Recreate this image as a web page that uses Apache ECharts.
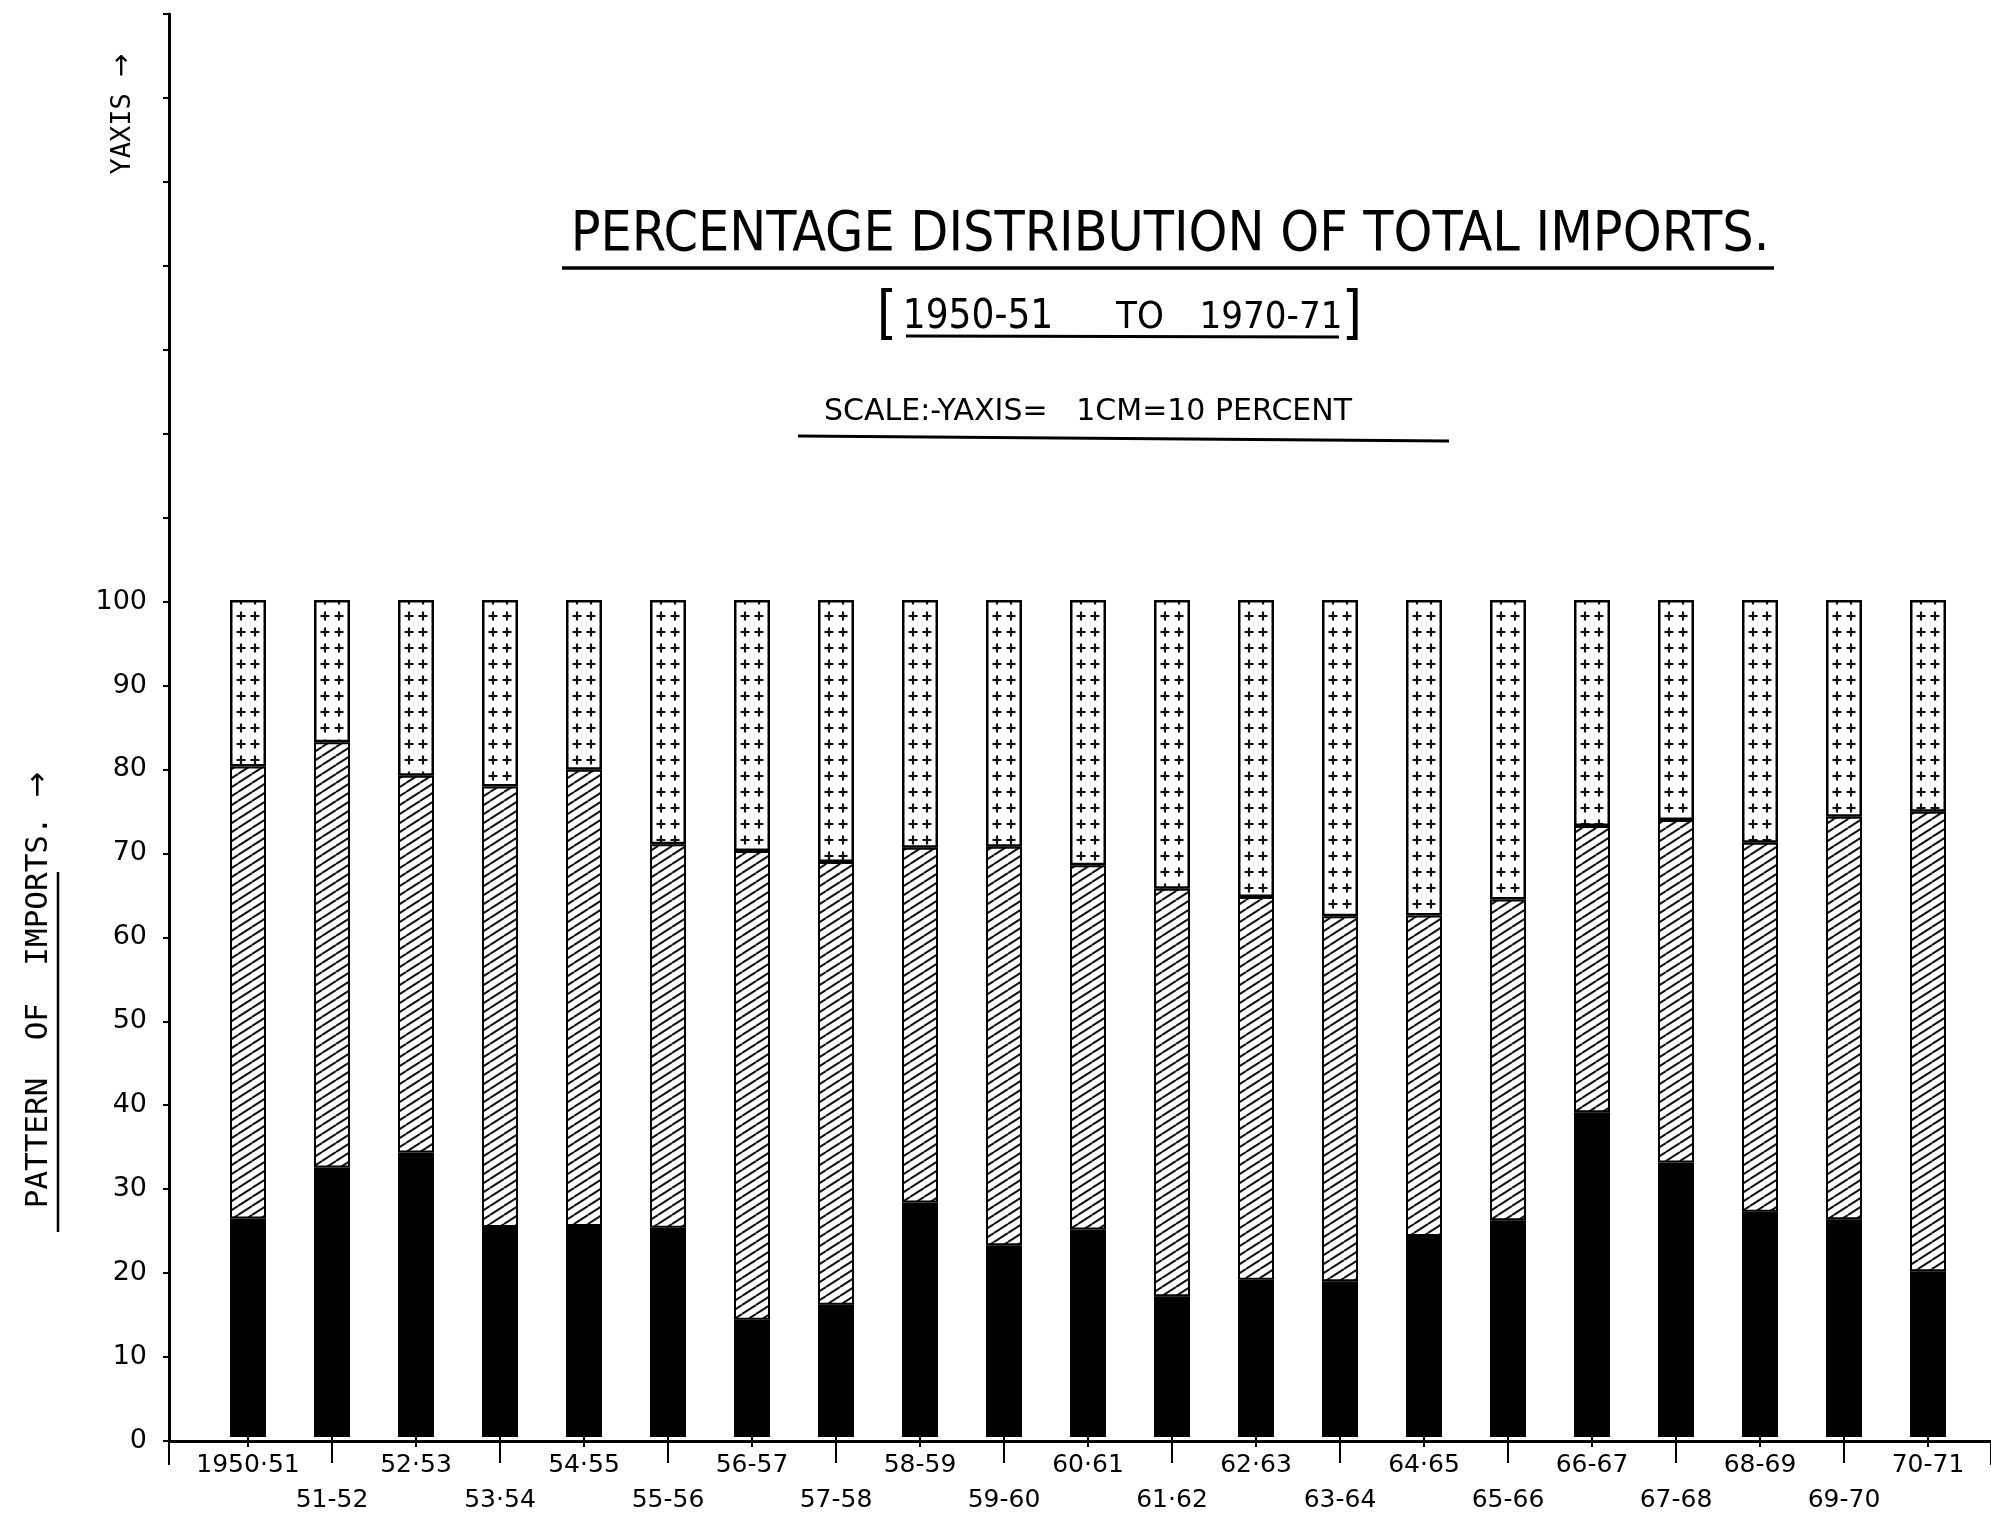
<!DOCTYPE html>
<html>
<head>
<meta charset="utf-8">
<title>Percentage distribution of total imports</title>
<script src="https://cdn.jsdelivr.net/npm/echarts@6/dist/echarts.min.js"></script>
<style>
  html, body { margin: 0; padding: 0; background: #fff; }
  #chart { width: 1991px; height: 1518px; }
</style>
</head>
<body>
<div id="chart"></div>
<script>
// years on the x axis, as written under the bars
const years = ['1950·51', '51-52', '52·53', '53·54', '54·55', '55-56', '56-57', '57-58', '58-59', '59-60',
  '60·61', '61·62', '62·63', '63-64', '64·65', '65-66', '66-67', '67-68', '68-69', '69-70', '70-71'];

// percent shares, bottom to top (solid / hatched / crossed)
const solidShare = [26.1, 32.2, 34.0, 25.1, 25.2, 25.0, 14.0, 15.8, 28.0, 22.9, 24.8,
  16.8, 18.8, 18.6, 24.0, 25.9, 38.8, 32.8, 26.9, 26.0, 19.8];
const hatchedShare = [54.0, 50.8, 45.0, 52.6, 54.5, 45.8, 56.0, 52.9, 42.4, 47.6, 43.5,
  48.7, 45.7, 43.6, 38.3, 38.3, 34.2, 40.9, 44.1, 48.1, 54.9];
const crossedShare = [19.9, 17.0, 21.0, 22.3, 20.3, 29.2, 30.0, 31.3, 29.6, 29.5, 31.7,
  34.5, 35.5, 37.8, 37.7, 35.8, 27.0, 26.3, 29.0, 25.9, 25.3];

const yMax = 170;
const yStep = 10;
const labelFont = "'DejaVu Sans', 'Liberation Sans', sans-serif";
const monoFont = "'DejaVu Sans Mono', 'Liberation Mono', monospace";
const narrowFont = "'Liberation Sans Narrow', 'DejaVu Sans Condensed', 'Roboto Condensed', 'Liberation Sans', sans-serif";

// hatch tile: "/" strokes
function hatchTile() {
  const w = 14, h = 9;
  const c = document.createElement('canvas');
  c.width = w; c.height = h;
  const ctx = c.getContext('2d');
  ctx.fillStyle = '#fff';
  ctx.fillRect(0, 0, w, h);
  ctx.strokeStyle = '#111';
  ctx.lineWidth = 2;
  for (let n = -1; n <= 1; n++) {
    ctx.beginPath();
    ctx.moveTo(0, h + h * n);
    ctx.lineTo(w, h * n);
    ctx.stroke();
  }
  return c;
}

// small "+" marks, two per row inside a bar
function plusTile() {
  const c = document.createElement('canvas');
  c.width = 14; c.height = 16;
  const ctx = c.getContext('2d');
  ctx.fillStyle = '#fff';
  ctx.fillRect(0, 0, 14, 16);
  ctx.strokeStyle = '#111';
  ctx.lineWidth = 2.2;
  [3, 17, -11].forEach(cx => {
    ctx.beginPath();
    ctx.moveTo(cx - 4.5, 8); ctx.lineTo(cx + 4.5, 8);
    ctx.moveTo(cx, 3.5); ctx.lineTo(cx, 12.5);
    ctx.stroke();
  });
  return c;
}

const chart = echarts.init(document.getElementById('chart'), null, { renderer: 'canvas' });

const gridTop = 14;
const gridBottom = 77;

const option = {
  backgroundColor: '#fff',
  animation: false,
  grid: [
    { left: 206, width: 1764, top: gridTop, bottom: gridBottom },
    { left: 169, right: -10, top: gridTop, bottom: gridBottom }
  ],
  xAxis: [
    {
      gridIndex: 0,
      type: 'category',
      data: years,
      axisLine: { show: false },
      axisTick: {
        show: true,
        alignWithLabel: true,
        length: 26,
        interval: (i) => i % 2 === 1,
        lineStyle: { color: '#000', width: 2 }
      },
      axisLabel: {
        interval: 0,
        color: '#000',
        fontFamily: labelFont,
        fontSize: 25,
        lineHeight: 35,
        margin: 11,
        formatter: (v, i) => (i % 2 === 0 ? v : '\n' + v)
      }
    },
    {
      gridIndex: 0,
      type: 'category',
      position: 'bottom',
      data: years,
      axisLine: { show: false },
      axisLabel: { show: false },
      axisTick: {
        show: true,
        alignWithLabel: true,
        length: 10,
        interval: (i) => i % 2 === 0,
        lineStyle: { color: '#000', width: 2 }
      }
    },
    {
      gridIndex: 1,
      type: 'value',
      min: 0,
      max: 1,
      interval: 1,
      axisLine: { show: true, lineStyle: { color: '#000', width: 3 } },
      axisTick: { show: true, length: 24, lineStyle: { color: '#000', width: 2 } },
      axisLabel: { show: false },
      splitLine: { show: false }
    }
  ],
  yAxis: [
    { gridIndex: 0, type: 'value', min: 0, max: yMax, show: false },
    {
      gridIndex: 1,
      type: 'value',
      min: 0,
      max: yMax,
      interval: yStep,
      axisLine: { show: true, lineStyle: { color: '#000', width: 3 } },
      axisTick: { show: true, length: 6, lineStyle: { color: '#000', width: 2 } },
      axisLabel: {
        color: '#000',
        fontFamily: labelFont,
        fontSize: 27,
        margin: 22,
        formatter: (v) => (v <= 100 ? String(v) : '')
      },
      splitLine: { show: false }
    }
  ],
  series: [
    {
      name: 'Solid share',
      type: 'bar',
      stack: 'total',
      barWidth: 36,
      xAxisIndex: 0,
      yAxisIndex: 0,
      data: solidShare,
      itemStyle: { color: '#000' }
    },
    {
      name: 'Hatched share',
      type: 'bar',
      stack: 'total',
      barWidth: 36,
      xAxisIndex: 0,
      yAxisIndex: 0,
      data: hatchedShare,
      itemStyle: {
        color: { image: hatchTile(), repeat: 'repeat' },
        borderColor: '#000',
        borderWidth: 2
      }
    },
    {
      name: 'Crossed share',
      type: 'bar',
      stack: 'total',
      barWidth: 36,
      xAxisIndex: 0,
      yAxisIndex: 0,
      data: crossedShare,
      itemStyle: {
        color: { image: plusTile(), repeat: 'repeat' },
        borderColor: '#000',
        borderWidth: 2.5
      }
    }
  ],
  graphic: [
    {
      type: 'text', x: 1170, y: 236,
      style: { text: 'PERCENTAGE DISTRIBUTION OF TOTAL IMPORTS.', fill: '#000',
        font: '55px ' + narrowFont, textAlign: 'center', textVerticalAlign: 'middle' }
    },
    { type: 'line', shape: { x1: 562, y1: 268, x2: 1774, y2: 268 }, style: { stroke: '#000', lineWidth: 3.5 } },
    {
      type: 'text', x: 978, y: 318,
      style: { text: '1950-51', fill: '#000', font: '40px ' + narrowFont, textAlign: 'center', textVerticalAlign: 'middle' }
    },
    {
      type: 'text', x: 1140, y: 318,
      style: { text: 'TO', fill: '#000', font: '38px ' + narrowFont, textAlign: 'center', textVerticalAlign: 'middle' }
    },
    {
      type: 'text', x: 1271, y: 318,
      style: { text: '1970-71', fill: '#000', font: '38px ' + narrowFont, textAlign: 'center', textVerticalAlign: 'middle' }
    },
    {
      type: 'text', x: 887, y: 318,
      style: { text: '[', fill: '#000', font: '58px ' + narrowFont, textAlign: 'center', textVerticalAlign: 'middle' }
    },
    {
      type: 'text', x: 1352, y: 318,
      style: { text: ']', fill: '#000', font: '58px ' + narrowFont, textAlign: 'center', textVerticalAlign: 'middle' }
    },
    { type: 'line', shape: { x1: 906, y1: 336, x2: 1339, y2: 337 }, style: { stroke: '#000', lineWidth: 3 } },
    {
      type: 'text', x: 1088, y: 412,
      style: { text: 'SCALE:-YAXIS=   1CM=10 PERCENT', fill: '#000',
        font: '30px ' + labelFont, textAlign: 'center', textVerticalAlign: 'middle' }
    },
    { type: 'line', shape: { x1: 798, y1: 436, x2: 1449, y2: 441 }, style: { stroke: '#000', lineWidth: 3 } },
    {
      type: 'text', x: 123, y: 114, rotation: Math.PI / 2,
      style: {
        text: '{t|YAXIS }{a|→}', fill: '#000', textAlign: 'center', textVerticalAlign: 'middle',
        rich: {
          t: { font: '27px ' + monoFont, fill: '#000' },
          a: { font: '28px ' + labelFont, fill: '#000' }
        }
      }
    },
    {
      type: 'text', x: 39, y: 990, rotation: Math.PI / 2,
      style: {
        text: '{t|PATTERN  OF  IMPORTS. }{a|→}', fill: '#000', textAlign: 'center', textVerticalAlign: 'middle',
        rich: {
          t: { font: '31px ' + monoFont, fill: '#000' },
          a: { font: '31px ' + labelFont, fill: '#000' }
        }
      }
    },
    { type: 'line', shape: { x1: 58, y1: 872, x2: 58, y2: 1232 }, style: { stroke: '#000', lineWidth: 2.5 } }
  ]
};

chart.setOption(option);
</script>
</body>
</html>
